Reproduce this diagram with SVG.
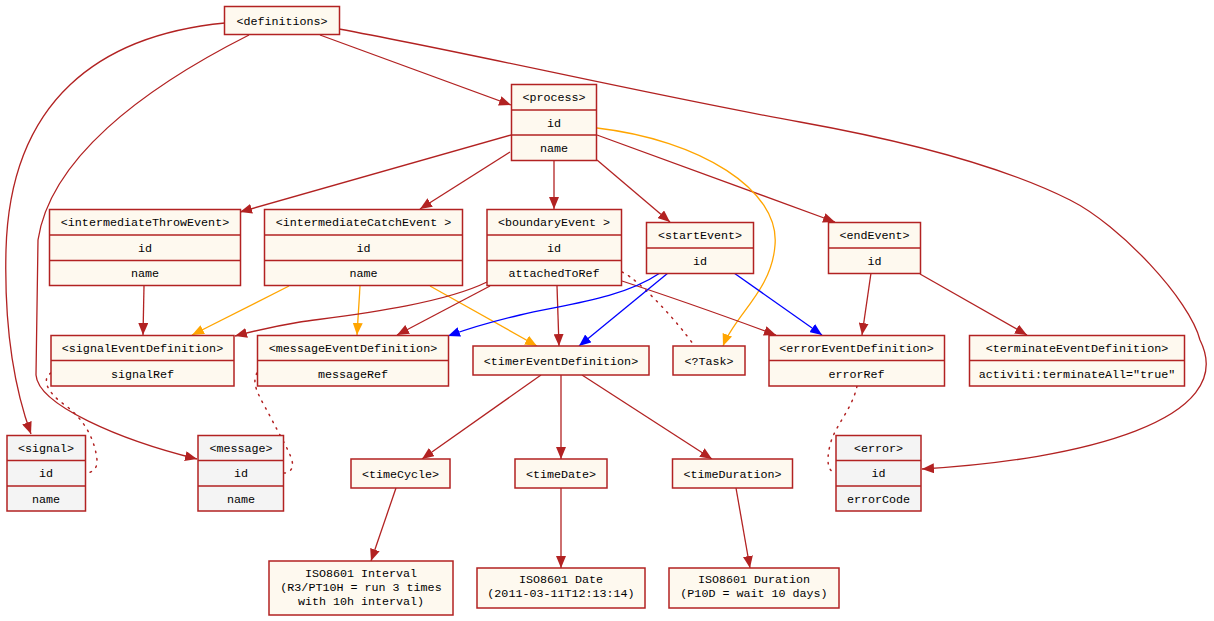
<svg xmlns="http://www.w3.org/2000/svg" width="1214" height="621" viewBox="0 0 1214 621">
<style>
.box{fill:#fef9ef;stroke:#b22222;stroke-width:1.5}
.grey{fill:#f4f4f4;stroke:#b22222;stroke-width:1.5}
.div{stroke:#b22222;stroke-width:1.5}
.t{font-family:"Liberation Mono","DejaVu Sans Mono",monospace;font-size:11.7px;text-anchor:middle;fill:#000}
.e{fill:none;stroke:#b22222;stroke-width:1.3}
.o{fill:none;stroke:#ffa500;stroke-width:1.3}
.b{fill:none;stroke:#0000ff;stroke-width:1.3}
.d{fill:none;stroke:#b22222;stroke-width:1.5;stroke-dasharray:1.5 6;stroke-linecap:round}
</style>
<defs>
<marker id="ar" markerUnits="userSpaceOnUse" markerWidth="12" markerHeight="10" refX="12" refY="5" orient="auto"><path d="M0,0 L12,5 L0,10 z" fill="#b22222"/></marker>
<marker id="ao" markerUnits="userSpaceOnUse" markerWidth="12" markerHeight="10" refX="12" refY="5" orient="auto"><path d="M0,0 L12,5 L0,10 z" fill="#ffa500"/></marker>
<marker id="ab" markerUnits="userSpaceOnUse" markerWidth="12" markerHeight="10" refX="12" refY="5" orient="auto"><path d="M0,0 L12,5 L0,10 z" fill="#0000ff"/></marker>
</defs>

<g id="connectors">
<path class="e" marker-end="url(#ar)" d="M320,35 L511,105"/>
<path class="e" marker-end="url(#ar)" d="M225,23 C100,35 10,100 6,250 C4,330 15,390 31,434"/>
<path class="e" marker-end="url(#ar)" d="M249,35 C140,90 50,160 38,240 L36,375 C38,405 120,440 197,459"/>
<path class="e" marker-end="url(#ar)" d="M339,29 C480,55 650,95 800,122 C900,140 1000,165 1070,200 C1120,225 1190,300 1200,340 C1240,420 1080,460 922,469"/>
<path class="e" marker-end="url(#ar)" d="M511,135 L240,212"/>
<path class="e" marker-end="url(#ar)" d="M510,152 L420,209"/>
<path class="e" marker-end="url(#ar)" d="M554,160 L554,209"/>
<path class="e" marker-end="url(#ar)" d="M597,160 L670,222"/>
<path class="e" marker-end="url(#ar)" d="M597,135 L835,222"/>
<path class="o" marker-end="url(#ao)" d="M597,128 C700,140 780,190 775,245 C772,290 735,315 723,346"/>
<path class="e" marker-end="url(#ar)" d="M144,286 L143,335"/>
<path class="o" marker-end="url(#ao)" d="M289,286 L192,335"/>
<path class="o" marker-end="url(#ao)" d="M360,286 L357,335"/>
<path class="o" marker-end="url(#ao)" d="M430,286 L537,346"/>
<path class="e" marker-end="url(#ar)" d="M487,282 C440,305 350,315 300,322 C270,327 250,332 235,336"/>
<path class="e" marker-end="url(#ar)" d="M490,286 L397,335"/>
<path class="e" marker-end="url(#ar)" d="M557,286 L559,346"/>
<path class="e" marker-end="url(#ar)" d="M622,281 C680,300 730,318 776,335"/>
<path class="d" d="M622,272 C640,280 680,325 693,344"/>
<path class="b" marker-end="url(#ab)" d="M660,273 C620,300 560,305 520,315 C490,322 470,328 448,336"/>
<path class="b" marker-end="url(#ab)" d="M668,273 L579,346"/>
<path class="b" marker-end="url(#ab)" d="M734,273 L822,335"/>
<path class="e" marker-end="url(#ar)" d="M871,273 L862,335"/>
<path class="e" marker-end="url(#ar)" d="M920,274 L1027,335"/>
<path class="e" marker-end="url(#ar)" d="M541,375 L422,459"/>
<path class="e" marker-end="url(#ar)" d="M561,375 L561,459"/>
<path class="e" marker-end="url(#ar)" d="M582,375 L712,459"/>
<path class="e" marker-end="url(#ar)" d="M396,488 L371,561"/>
<path class="e" marker-end="url(#ar)" d="M561,488 L561,568"/>
<path class="e" marker-end="url(#ar)" d="M736,488 L750,568"/>
<path class="d" d="M51,373 C40,380 50,395 65,405 C85,420 95,440 97,460 C98,468 92,473 86,473"/>
<path class="d" d="M257,373 C250,385 262,400 272,420 C285,445 295,460 292,468 C290,472 287,473 284,473"/>
<path class="d" d="M857,386 C852,410 835,425 830,445 C826,462 828,472 836,473"/>
</g>

<g id="definitions"><rect class="box" x="224.5" y="6.5" width="115" height="28"/><text class="t" x="282" y="24.5">&lt;definitions&gt;</text></g>

<g id="process"><rect class="box" x="511.5" y="84.5" width="85" height="76"/><line class="div" x1="511.5" y1="110" x2="596.5" y2="110"/><line class="div" x1="511.5" y1="135" x2="596.5" y2="135"/>
<text class="t" x="554" y="101">&lt;process&gt;</text><text class="t" x="554" y="126.5">id</text><text class="t" x="554" y="152">name</text></g>

<g id="intermediateThrowEvent"><rect class="box" x="49.5" y="209.5" width="191" height="76"/><line class="div" x1="49.5" y1="235" x2="240.5" y2="235"/><line class="div" x1="49.5" y1="260.5" x2="240.5" y2="260.5"/>
<text class="t" x="145" y="226">&lt;intermediateThrowEvent&gt;</text><text class="t" x="145" y="251.5">id</text><text class="t" x="145" y="277">name</text></g>

<g id="intermediateCatchEvent"><rect class="box" x="264.5" y="209.5" width="198" height="76"/><line class="div" x1="264.5" y1="235" x2="462.5" y2="235"/><line class="div" x1="264.5" y1="260.5" x2="462.5" y2="260.5"/>
<text class="t" x="363.5" y="226">&lt;intermediateCatchEvent &gt;</text><text class="t" x="363.5" y="251.5">id</text><text class="t" x="363.5" y="277">name</text></g>

<g id="boundaryEvent"><rect class="box" x="487" y="209.5" width="134.5" height="76"/><line class="div" x1="487" y1="235" x2="621.5" y2="235"/><line class="div" x1="487" y1="260.5" x2="621.5" y2="260.5"/>
<text class="t" x="554" y="226">&lt;boundaryEvent &gt;</text><text class="t" x="554" y="251.5">id</text><text class="t" x="554" y="277">attachedToRef</text></g>

<g id="startEvent"><rect class="box" x="646.5" y="222.5" width="107" height="51"/><line class="div" x1="646.5" y1="248" x2="753.5" y2="248"/>
<text class="t" x="700" y="239">&lt;startEvent&gt;</text><text class="t" x="700" y="264.5">id</text></g>

<g id="endEvent"><rect class="box" x="828.5" y="222.5" width="92" height="51"/><line class="div" x1="828.5" y1="248" x2="920.5" y2="248"/>
<text class="t" x="874.5" y="239">&lt;endEvent&gt;</text><text class="t" x="874.5" y="264.5">id</text></g>

<g id="signalEventDefinition"><rect class="box" x="51" y="335.5" width="183" height="50.5"/><line class="div" x1="51" y1="360.5" x2="234" y2="360.5"/>
<text class="t" x="142.5" y="352">&lt;signalEventDefinition&gt;</text><text class="t" x="142.5" y="377.5">signalRef</text></g>

<g id="messageEventDefinition"><rect class="box" x="257.5" y="335.5" width="191" height="50.5"/><line class="div" x1="257.5" y1="360.5" x2="448.5" y2="360.5"/>
<text class="t" x="353" y="352">&lt;messageEventDefinition&gt;</text><text class="t" x="353" y="377.5">messageRef</text></g>

<g id="timerEventDefinition"><rect class="box" x="473" y="346" width="176" height="29"/>
<text class="t" x="561" y="364.5">&lt;timerEventDefinition&gt;</text></g>

<g id="task"><rect class="box" x="673" y="346" width="72" height="29"/>
<text class="t" x="709" y="364.5">&lt;?Task&gt;</text></g>

<g id="errorEventDefinition"><rect class="box" x="769" y="335.5" width="175.5" height="50.5"/><line class="div" x1="769" y1="360.5" x2="944.5" y2="360.5"/>
<text class="t" x="856.5" y="352">&lt;errorEventDefinition&gt;</text><text class="t" x="856.5" y="377.5">errorRef</text></g>

<g id="terminateEventDefinition"><rect class="box" x="969.5" y="335.5" width="215" height="50.5"/><line class="div" x1="969.5" y1="360.5" x2="1184.5" y2="360.5"/>
<text class="t" x="1077" y="352">&lt;terminateEventDefinition&gt;</text><text class="t" x="1077" y="377.5">activiti:terminateAll="true"</text></g>

<g id="signal"><rect class="grey" x="7" y="435.5" width="78.5" height="75.5"/><line class="div" x1="7" y1="460.5" x2="85.5" y2="460.5"/><line class="div" x1="7" y1="486" x2="85.5" y2="486"/>
<text class="t" x="46" y="452">&lt;signal&gt;</text><text class="t" x="46" y="477">id</text><text class="t" x="46" y="502.5">name</text></g>

<g id="message"><rect class="grey" x="198" y="435.5" width="85.5" height="75.5"/><line class="div" x1="198" y1="460.5" x2="283.5" y2="460.5"/><line class="div" x1="198" y1="486" x2="283.5" y2="486"/>
<text class="t" x="241" y="452">&lt;message&gt;</text><text class="t" x="241" y="477">id</text><text class="t" x="241" y="502.5">name</text></g>

<g id="error"><rect class="grey" x="836" y="435.5" width="85" height="75.5"/><line class="div" x1="836" y1="460.5" x2="921" y2="460.5"/><line class="div" x1="836" y1="486" x2="921" y2="486"/>
<text class="t" x="878.5" y="452">&lt;error&gt;</text><text class="t" x="878.5" y="477">id</text><text class="t" x="878.5" y="502.5">errorCode</text></g>

<g id="timeCycle"><rect class="box" x="351" y="459" width="99" height="29"/>
<text class="t" x="400.5" y="477.5">&lt;timeCycle&gt;</text></g>

<g id="timeDate"><rect class="box" x="515" y="459" width="92" height="29"/>
<text class="t" x="561" y="477.5">&lt;timeDate&gt;</text></g>

<g id="timeDuration"><rect class="box" x="672.5" y="459" width="120" height="29"/>
<text class="t" x="732.5" y="477.5">&lt;timeDuration&gt;</text></g>

<g id="isoInterval"><rect class="box" x="269" y="561" width="184" height="54"/>
<text class="t" x="361" y="576.5">ISO8601 Interval</text><text class="t" x="361" y="591">(R3/PT10H = run 3 times</text><text class="t" x="361" y="605">with 10h interval)</text></g>

<g id="isoDate"><rect class="box" x="477" y="568" width="168" height="40"/>
<text class="t" x="561" y="583">ISO8601 Date</text><text class="t" x="561" y="597">(2011-03-11T12:13:14)</text></g>

<g id="isoDuration"><rect class="box" x="669" y="568" width="170" height="40"/>
<text class="t" x="754" y="583">ISO8601 Duration</text><text class="t" x="754" y="597">(P10D = wait 10 days)</text></g>
</svg>
